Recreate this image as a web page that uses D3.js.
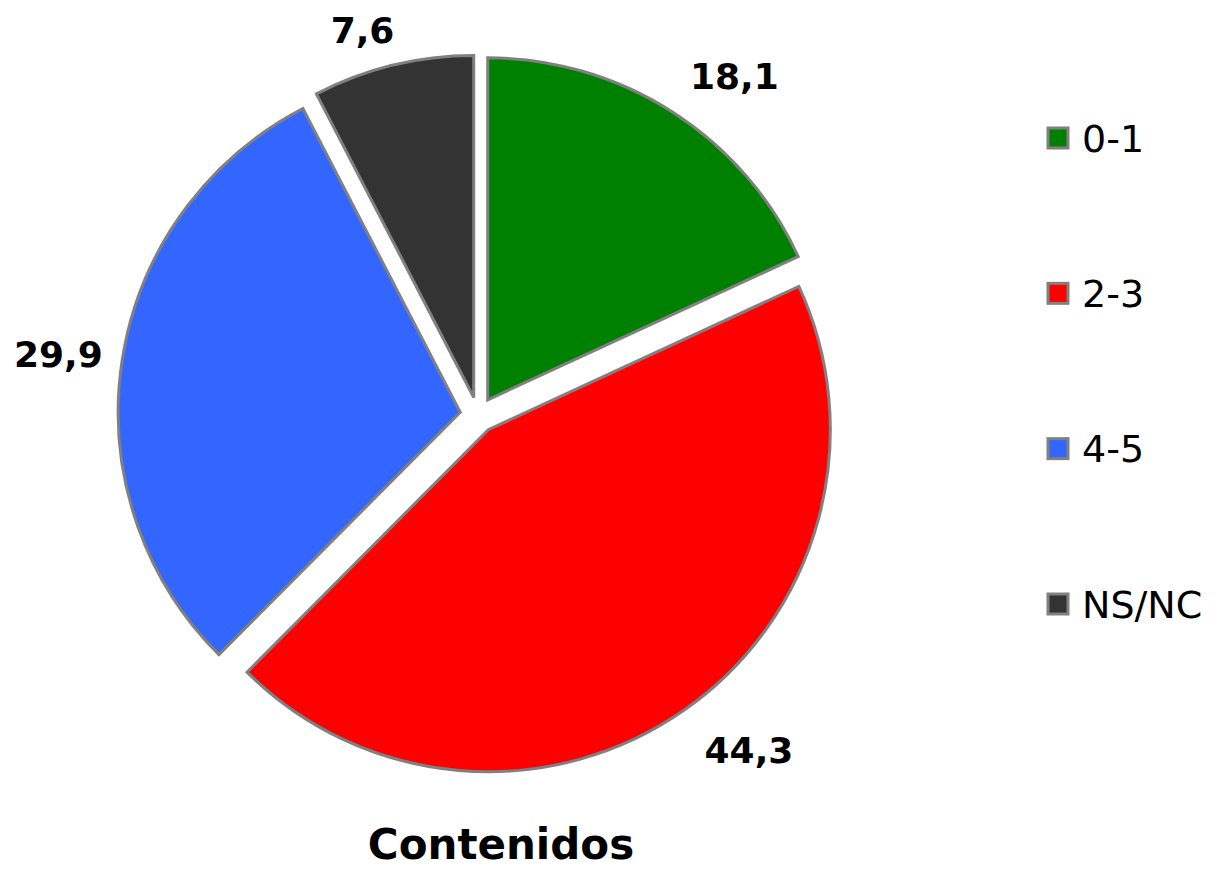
<html>
    <head>
        <style>
        body {
            margin: 0;
            background: #ffffff;
        }

        .chart-container {
            font-family: "DejaVu Sans", Verdana, sans-serif;
            color: #000000;
        }

        .slice-label {
            font-weight: bold;
            font-size: 36px;
        }

        .title {
            font-weight: bold;
            font-size: 42px;
        }

        .legend text {
            font-size: 38px;
        }
        </style>
    </head>
    <body>
        <div class="chart-container">
            <svg width="1216" height="869"></svg>
        </div>
        <script src="https://cdnjs.cloudflare.com/ajax/libs/d3/7.8.5/d3.min.js"></script>
        <script>

            // data
            let categories = ["0-1", "2-3", "4-5", "NS/NC"]
            let values = [18.1, 44.3, 29.9, 7.6]
            let valueLabels = ["18,1", "44,3", "29,9", "7,6"]
            let colors = ["#008000", "#ff0000", "#3366ff", "#333333"]
            let chartTitle = "Contenidos"

            let width = 1216
            let height = 869

            let svg = d3.select("body").select("svg")

            let cx = 478
            let cy = 415
            let radius = 342
            let explode = 18

            // label placement: shift from mid angle (degrees) and distance from centre
            let labelShift = [4.5, -4, -0.5, -3]
            let labelRadius = [425, 431, 424, 402]

            let data = categories.map((c, i) => ({
                category: c,
                value: values[i],
                label: valueLabels[i],
                color: colors[i]
            }))

            let pie = d3.pie()
                .sort(null)
                .value(d => d.value)

            let arc = d3.arc()
                .innerRadius(0)
                .outerRadius(radius)

            let arcs = pie(data)

            let chart = svg.append("g")
                .attr("transform", `translate(${cx}, ${cy})`)

            chart.selectAll(".slice")
                .data(arcs)
                .join("path")
                .attr("class", "slice")
                .attr("d", arc)
                .attr("transform", d => {
                    let mid = (d.startAngle + d.endAngle) / 2
                    return `translate(${explode * Math.sin(mid)}, ${-explode * Math.cos(mid)})`
                })
                .style("fill", d => d.data.color)
                .style("stroke", "#808080")
                .style("stroke-width", 3)
                .style("stroke-linejoin", "miter")

            chart.selectAll(".slice-label")
                .data(arcs)
                .join("text")
                .attr("class", "slice-label")
                .attr("text-anchor", "middle")
                .attr("dy", "0.36em")
                .attr("x", (d, i) => {
                    let a = (d.startAngle + d.endAngle) / 2 + labelShift[i] * Math.PI / 180
                    return labelRadius[i] * Math.sin(a)
                })
                .attr("y", (d, i) => {
                    let a = (d.startAngle + d.endAngle) / 2 + labelShift[i] * Math.PI / 180
                    return -labelRadius[i] * Math.cos(a)
                })
                .text(d => d.data.label)

            svg.append("text")
                .attr("class", "title")
                .attr("x", 501)
                .attr("y", 859)
                .attr("text-anchor", "middle")
                .text(chartTitle)

            // legend
            let legendY = d3.scalePoint()
                .domain(categories)
                .range([138, 604])

            let legend = svg.append("g")
                .attr("class", "legend")
                .selectAll("g")
                .data(data)
                .join("g")
                .attr("transform", d => `translate(1048, ${legendY(d.category)})`)

            legend.append("rect")
                .attr("x", 0)
                .attr("y", -10)
                .attr("width", 20)
                .attr("height", 20)
                .style("fill", d => d.color)
                .style("stroke", "#808080")
                .style("stroke-width", 3)

            legend.append("text")
                .attr("x", 34)
                .attr("y", 0)
                .attr("dy", "0.36em")
                .text(d => d.category)

        </script>
    </body>
</html>
